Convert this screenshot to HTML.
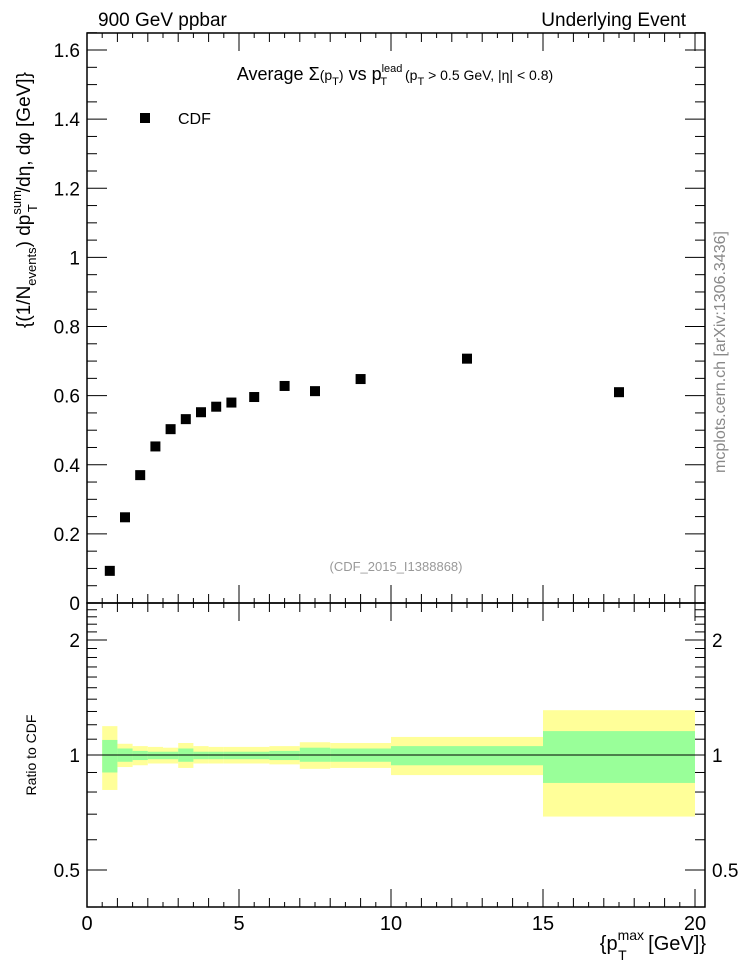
<!DOCTYPE html>
<html><head><meta charset="utf-8"><style>
body{margin:0;background:#fff;}
svg text{font-family:"Liberation Sans",Arial,sans-serif;}
</style></head><body>
<svg id="c" width="746" height="972" xmlns="http://www.w3.org/2000/svg">
<g id="g"></g>
<text x="98" y="26" font-size="19">900 GeV ppbar</text>
<text x="686" y="26" font-size="19" text-anchor="end">Underlying Event</text>
<text x="395" y="80" font-size="18" text-anchor="middle">Average Σ<tspan font-size="14">(p</tspan><tspan font-size="11" dy="5">T</tspan><tspan font-size="14" dy="-5">)</tspan> vs p<tspan font-size="11" dy="-8">lead</tspan><tspan font-size="11" dx="-22" dy="13">T</tspan><tspan font-size="14" dx="14" dy="-5"> (p</tspan><tspan font-size="11" dy="5">T</tspan><tspan font-size="14" dy="-5"> &gt; 0.5 GeV, |η| &lt; 0.8)</tspan></text>
<rect x="140" y="113" width="10" height="10" fill="#000"/>
<text x="178" y="124" font-size="16">CDF</text>
<text x="396" y="571" font-size="13" fill="#999" text-anchor="middle">(CDF_2015_I1388868)</text>
<text transform="translate(725,352) rotate(-90)" font-size="16" fill="#888" text-anchor="middle">mcplots.cern.ch [arXiv:1306.3436]</text>
<text transform="translate(30,200) rotate(-90)" font-size="19" text-anchor="middle">{(1/N<tspan font-size="13" dy="6">events</tspan><tspan dy="-6">) dp</tspan><tspan font-size="13" dy="-9">sum</tspan><tspan font-size="13" dx="-22" dy="16">T</tspan><tspan dx="12" dy="-7">/dη, dφ [GeV]}</tspan></text>
<text transform="translate(36,755) rotate(-90)" font-size="14" text-anchor="middle">Ratio to CDF</text>
<text x="706" y="950" font-size="20" text-anchor="end">{p<tspan font-size="14" dy="-10">max</tspan><tspan font-size="14" dx="-26" dy="20">T</tspan><tspan dx="16" dy="-10"> [GeV]}</tspan></text>
</svg>
<script>
const xCenters=[0.75,1.25,1.75,2.25,2.75,3.25,3.75,4.25,4.75,5.5,6.5,7.5,9,12.5,17.5];
const binLo=[0.5,1,1.5,2,2.5,3,3.5,4,4.5,5,6,7,8,10,15];
const binHi=[1,1.5,2,2.5,3,3.5,4,4.5,5,6,7,8,10,15,20];
const cdfValues=[0.093,0.248,0.37,0.453,0.503,0.532,0.552,0.568,0.58,0.596,0.628,0.613,0.648,0.707,0.61];
const yellowUp=[1.19,1.07,1.055,1.05,1.045,1.075,1.055,1.05,1.05,1.05,1.055,1.08,1.075,1.115,1.31];
const yellowDn=[0.81,0.93,0.94,0.95,0.95,0.925,0.95,0.95,0.95,0.95,0.945,0.92,0.925,0.886,0.69];
const greenUp=[1.095,1.04,1.025,1.02,1.02,1.04,1.02,1.02,1.02,1.02,1.025,1.045,1.04,1.055,1.155];
const greenDn=[0.90,0.96,0.97,0.975,0.975,0.96,0.975,0.975,0.975,0.975,0.97,0.96,0.96,0.94,0.845];
const xTickLabels=[0,5,10,15,20];
const yTickLabels=[0,0.2,0.4,0.6,0.8,1,1.2,1.4,1.6];
const rTickLabels=[0.5,1,2];

const L=87,R=705,T=33,MB=603,RB=907;
const X=v=>L+v*30.4;
const Y=v=>MB-v*345.6;
const RY=v=>755-Math.log2(v)*115;
const g=document.getElementById('g');
const NS='http://www.w3.org/2000/svg';
function el(t,a,name,txt){const e=document.createElementNS(NS,t);for(const k in a)e.setAttribute(k,a[k]);


if(txt!==undefined)e.textContent=txt;g.appendChild(e);return e;}
for(let i=0;i<binLo.length;i++){
 el('rect',{x:X(binLo[i]),y:RY(yellowUp[i]),width:X(binHi[i])-X(binLo[i]),height:RY(yellowDn[i])-RY(yellowUp[i]),fill:'#ffff99'},'ratio-stat-syst-band');
}
for(let i=0;i<binLo.length;i++){
 el('rect',{x:X(binLo[i]),y:RY(greenUp[i]),width:X(binHi[i])-X(binLo[i]),height:RY(greenDn[i])-RY(greenUp[i]),fill:'#99ff99'},'ratio-stat-band');
}
el('line',{x1:X(0.5),x2:X(20),y1:RY(1),y2:RY(1),stroke:'#000','stroke-width':1},'ratio-unity-line');
el('rect',{x:L,y:T,width:R-L,height:MB-T,fill:'none',stroke:'#000','stroke-width':1.5},'main-frame');
el('rect',{x:L,y:MB,width:R-L,height:RB-MB,fill:'none',stroke:'#000','stroke-width':1.5},'ratio-frame');
for(let v=0;v<=20.001;v+=0.5){
 const maj=Math.abs(v%5)<1e-6, mid=Math.abs(v%1)<1e-6;
 const len=maj?18:(mid?9:5);
 [[T,1],[MB,-1],[MB,1],[RB,-1]].forEach(([y0,d])=>el('line',{x1:X(v),x2:X(v),y1:y0,y2:y0+d*len,stroke:'#000'},'x-tick'));
}
xTickLabels.forEach(v=>el('text',{x:X(v),y:930,'font-size':20,'text-anchor':'middle'},'x-tick-label',String(v)));
for(let k=0;k<=33;k++){const v=k*0.05;const maj=k%4==0;const len=maj?20:10;
 el('line',{x1:L,x2:L+len,y1:Y(v),y2:Y(v),stroke:'#000'},'y-tick');
 el('line',{x1:R,x2:R-len,y1:Y(v),y2:Y(v),stroke:'#000'},'y-tick');}
yTickLabels.forEach(v=>el('text',{x:80,y:Y(v)+7,'font-size':19,'text-anchor':'end'},'y-tick-label',String(v)));
const rmin=[0.4,0.5,0.6,0.7,0.8,0.9,1,1.1,1.2,1.3,1.4,1.5,1.6,1.7,1.8,1.9,2,2.1,2.2,2.3,2.4,2.5];
rmin.forEach(v=>{const maj=[0.5,1,2].includes(v);const len=maj?20:10;
 el('line',{x1:L,x2:L+len,y1:RY(v),y2:RY(v),stroke:'#000'},'ratio-tick');
 el('line',{x1:R,x2:R-len,y1:RY(v),y2:RY(v),stroke:'#000'},'ratio-tick');});
rTickLabels.forEach(v=>{
 el('text',{x:80,y:RY(v)+7,'font-size':19,'text-anchor':'end'},'ratio-tick-label-left',String(v));
 el('text',{x:712,y:RY(v)+7,'font-size':19},'ratio-tick-label-right',String(v));});
for(let i=0;i<xCenters.length;i++)
 el('rect',{x:X(xCenters[i])-5,y:Y(cdfValues[i])-5,width:10,height:10,fill:'#000'},'cdf-point');
</script>
</body></html>
